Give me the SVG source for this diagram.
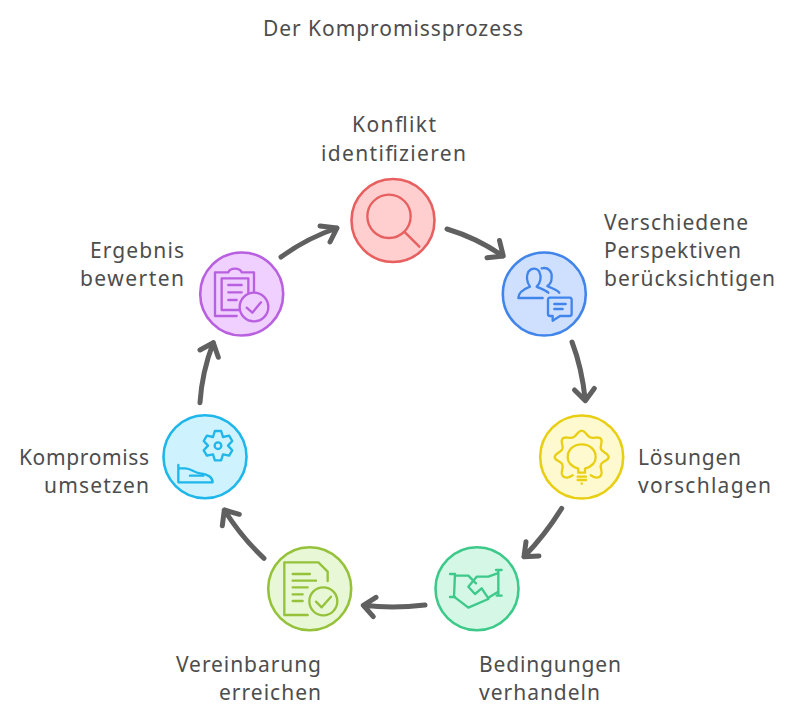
<svg xmlns="http://www.w3.org/2000/svg" width="794" height="718" viewBox="0 0 794 718">
<style>
  text { font-family: "Noto Sans", "Open Sans", sans-serif; font-size: 21px; fill: #4d4d4d; }
  .end { text-anchor: end; }
  .mid { text-anchor: middle; }
  .disc { stroke-width: 2.6; }
  .ico { fill: none; stroke-width: 7; stroke-linecap: round; stroke-linejoin: round; }
  .arrow { fill: none; stroke: #606060; stroke-width: 5; stroke-linecap: round; stroke-linejoin: round; }
  .red { fill: #ffcfcf; stroke: #e85f5f; }
  .blue { fill: #cfe0ff; stroke: #4285ea; }
  .yellow { fill: #fff9cf; stroke: #e8cf14; }
  .green { fill: #d4f7e6; stroke: #3cc98a; }
  .lime { fill: #e8f7d5; stroke: #95c23a; }
  .cyan { fill: #cff2ff; stroke: #1fb6ea; }
  .purple { fill: #f0d0ff; stroke: #b860e0; }
</style>
<rect width="794" height="718" fill="#ffffff"/>
<text id="title" x="263" y="36" textLength="260">Der Kompromissprozess</text>

<g id="connectors" class="arrow">
  <path d="M447,229 Q477,238 503,256 M499.5,240.500 L503.3,256 L487,257.700"/>
  <path d="M572,342 Q582,368 585.3,400.500 M574.5,390 L585.3,400.700 L594.3,388.500"/>
  <path d="M561.7,508.300 Q545,535 524,556.700 M526,541.700 L524,556.700 L539,556"/>
  <path d="M425,605 Q393,609 363.5,605.300 M376,597.300 L363.3,605.300 L373.3,616.700"/>
  <path d="M264,558.300 Q242,538 224.3,510 M239.3,514.300 L224.3,510 L222.3,525.700"/>
  <path d="M200,402.700 Q202,372 213.3,342.700 M200,350 L213.3,342.700 L218.3,357.300"/>
  <path d="M281,257 Q307,238 337,228 M320,226 L337,228 L330,242"/>
</g>

<g id="node-konflikt">
  <circle class="red disc" cx="393" cy="220.500" r="41.500"/>
  <g class="ico" stroke="#e85f5f" transform="translate(340 170) scale(0.3333)">
    <circle cx="147" cy="139" r="65"/>
    <path d="M195,187 L238,230"/>
  </g>
  <text class="mid" x="394" y="132" textLength="84">Konflikt</text>
  <text class="mid" x="393.500" y="161" textLength="145">identifizieren</text>
</g>

<g id="node-perspektiven">
  <circle class="blue disc" cx="544.300" cy="294" r="41.500"/>
  <g class="ico" stroke="#4285ea" transform="translate(340 170) scale(0.3333)">
    <path d="M535,384 L608,384 M535,384 C535,368 550,358 570,350 C560,335 558,320 565,305 C575,293 590,293 598,305 C605,320 602,340 590,350 C600,355 615,360 625,368"/>
    <path d="M605,295 C625,290 637,305 635,322 C635,338 628,345 622,348 C635,355 650,358 658,368"/>
    <path d="M630,383 L690,383 Q695,383 695,390 L695,432 Q695,438 688,438 L660,438 L638,452 L638,438 L630,438 Q624,438 624,432 L624,390 Q624,383 630,383Z"/>
    <path d="M643,402 L677,402 M643,417 L668,417"/>
  </g>
  <text x="604" y="230" textLength="144">Verschiedene</text>
  <text x="604" y="258" textLength="137">Perspektiven</text>
  <text x="604" y="286" textLength="171">berücksichtigen</text>
</g>

<g id="node-loesungen">
  <circle class="yellow disc" cx="581.700" cy="457" r="41.500"/>
  <g class="ico" stroke="#e8cf14" transform="translate(530 400) scale(0.3333)">
    <path d="M128,226 C118,232 104,238 97,226 C90,214 102,205 97,193 C92,183 74,182 74,171 C74,160 92,158 97,148 C102,136 90,128 97,117 C104,106 118,118 130,112 C142,106 143,92 155,92 C167,92 168,106 180,112 C192,118 206,106 213,117 C220,128 208,136 213,148 C218,158 236,160 236,171 C236,182 218,183 213,193 C208,205 220,214 213,226 C206,238 192,232 182,226"/>
    <path d="M145,206 C125,200 113,188 113,172 C113,148 131,133 155,133 C179,133 197,148 197,172 C197,188 185,200 165,206 L165,218 L145,218 Z"/>
    <path d="M143,230 L168,230 M143,240 L168,240 M155,250 L155,251"/>
  </g>
  <text x="638" y="465" textLength="103">Lösungen</text>
  <text x="638" y="493" textLength="133">vorschlagen</text>
</g>

<g id="node-bedingungen">
  <circle class="green disc" cx="477" cy="588.700" r="41.500"/>
  <g class="ico" stroke="#3cc98a" transform="translate(420 535) scale(0.3333)">
    <path d="M90,117 L105,117 M105,117 L102,185 M90,186 L105,186"/>
    <path d="M228,105 L245,105 M235,105 L235,182 M230,182 L245,182"/>
    <path d="M105,122 L145,122 L168,145"/>
    <path d="M102,185 L145,218 L205,192"/>
    <path d="M232,115 L205,125 L170,125 L145,155 L165,177 L185,160 L205,190"/>
    <path d="M232,172 L205,188"/>
  </g>
  <text x="479" y="672" textLength="142">Bedingungen</text>
  <text x="479" y="700" textLength="121">verhandeln</text>
</g>

<g id="node-vereinbarung">
  <circle class="lime disc" cx="309.700" cy="588.700" r="41.500"/>
  <g class="ico" stroke="#95c23a" transform="translate(255 535) scale(0.3333)">
    <path d="M158,240 L88,240 L88,82 L190,82 L218,110 L218,138"/>
    <path d="M113,117 L165,117 M113,137 L183,137 M113,157 L158,157 M113,178 L143,178 M113,198 L143,198"/>
    <circle cx="205" cy="199" r="42"/>
    <path d="M183,200 L200,217 L228,185"/>
  </g>
  <text class="end" x="321" y="672" textLength="145">Vereinbarung</text>
  <text class="end" x="321" y="700" textLength="102">erreichen</text>
</g>

<g id="node-umsetzen">
  <circle class="cyan disc" cx="205" cy="456.700" r="41.500"/>
  <g class="ico" stroke="#1fb6ea" transform="translate(150 405) scale(0.3333)">
    <circle cx="204" cy="122" r="10"/>
    <path d="M194.600,78 L213.400,78 L219,96 L237.400,91.900 L246.800,108.100 L234,122 L246.800,135.900 L237.400,152.100 L219,148 L213.400,166 L194.600,166 L189,148 L170.600,152.100 L161.200,135.900 L174,122 L161.200,108.100 L170.600,91.900 L189,96 Z"/>
    <path d="M85,180 L85,232 L188,232 C188,215 175,208 150,205 C130,203 125,190 105,190 L85,190"/>
    <path d="M120,212 L160,212"/>
  </g>
  <text class="end" x="149" y="465" textLength="130">Kompromiss</text>
  <text class="end" x="149" y="493" textLength="105">umsetzen</text>
</g>

<g id="node-bewerten">
  <circle class="purple disc" cx="241.700" cy="294" r="41.500"/>
  <g class="ico" stroke="#b860e0" transform="translate(190 240) scale(0.3333)">
    <path d="M140,228 L75,228 L75,97 L115,97 C120,82 150,82 155,97 L192,97 L192,155"/>
    <path d="M150,210 L95,210 L95,115 L175,115 L175,160"/>
    <path d="M115,135 L155,135 M115,157 L155,157 M115,180 L140,180"/>
    <circle cx="192" cy="201" r="43"/>
    <path d="M170,203 L187,218 L213,187"/>
  </g>
  <text class="end" x="184" y="258" textLength="94">Ergebnis</text>
  <text class="end" x="184" y="286" textLength="104">bewerten</text>
</g>
</svg>
